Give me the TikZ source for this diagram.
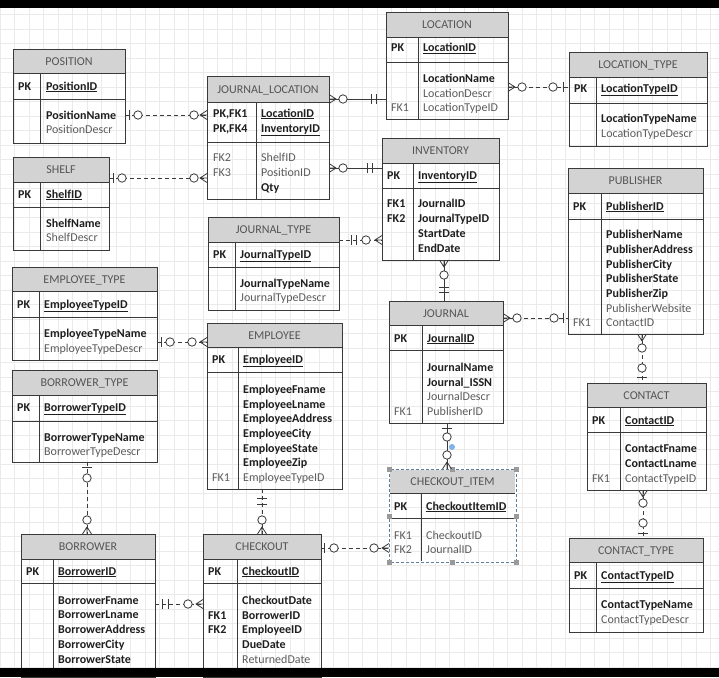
\documentclass[tikz,border=0pt]{standalone}
\usepackage{fontspec}
\setmainfont{Carlito}
\usetikzlibrary{calc}
\definecolor{hdr}{HTML}{D3D3D3}
\definecolor{bord}{HTML}{3A3A3A}
\definecolor{txtb}{HTML}{1E1E1E}
\definecolor{txtr}{HTML}{5C5C5C}
\definecolor{hdrtxt}{HTML}{555555}
\definecolor{gridc}{HTML}{EAEAEA}
\definecolor{selc}{HTML}{5E7E9E}
\definecolor{handc}{HTML}{9A9A9A}
\definecolor{glue}{HTML}{7FB2E5}
\newcounter{tn}
\tikzset{
  conn/.style={draw=bord, line width=0.8pt},
  dsh/.style={dash pattern=on 4pt off 3pt},
  tbox/.style={draw=bord, line width=0.8pt, inner sep=0pt, outer sep=0pt},
  htext/.style={font=\fontsize{12}{14}\selectfont, text=hdrtxt, anchor=base, yshift=-4pt, inner sep=0pt},
  kb/.style={font=\fontsize{12}{14}\selectfont\bfseries, text=txtb, anchor=base west, yshift=-4pt, inner sep=0pt},
  kr/.style={font=\fontsize{12}{14}\selectfont, text=txtr, anchor=base west, yshift=-4pt, inner sep=0pt},
}
% name, x1, y1, x2, y2, title, yheader, ypk, xdivider
\newcommand{\erTable}[9]{%
  \fill[hdr] (#2,#3) rectangle (#4,#7);
  \draw[conn] (#2,#7) -- (#4,#7) (#2,#8) -- (#4,#8) (#9,#7) -- (#9,#5);
  \node[tbox, anchor=north west, minimum width={(#4-#2)*1pt}, minimum height={(#5-#3)*1pt}] (#1) at (#2,#3) {};
  \node[htext] (#1-h) at ({(#2+#4)/2},{(#3+#7)/2}) {#6};
}
\newcommand{\txt}[4]{\stepcounter{tn}\node[#1] (t\arabic{tn}) at (#2,#3) {#4};}
\newcommand{\crowf}[2]{\begin{scope}[shift={#1},rotate=#2]\draw[conn] (0,-4.5)--(7,0)--(0,4.5) (0,0)--(7,0);\end{scope}}
\newcommand{\cbar}[3]{\begin{scope}[shift={#1},rotate=#2]\draw[conn] (#3,-5)--(#3,5);\end{scope}}
\newcommand{\ccir}[3]{\begin{scope}[shift={#1},rotate=#2]\draw[conn,fill=white] (#3,0) circle[radius=4.2pt];\end{scope}}
\begin{document}
\begin{tikzpicture}[x=1pt,y=-1pt]
\useasboundingbox (0,0) rectangle (719,677);
\fill[white] (0,0) rectangle (719,677);
\draw[gridc, line width=0.5pt, xstep=14.5pt, ystep=14.5pt] (0,0) grid (719,677);

% ---------- tables ----------
\erTable{position}{13}{49}{125}{143}{POSITION}{73}{99}{40}
\txt{kb}{18}{86}{PK}\txt{kb}{46}{86}{\underline{PositionID}}
\txt{kb}{46}{115}{PositionName}\txt{kr}{46}{129}{PositionDescr}

\erTable{shelf}{13}{157}{109}{250}{SHELF}{182}{207}{40}
\txt{kb}{18}{194}{PK}\txt{kb}{46}{194}{\underline{ShelfID}}
\txt{kb}{46}{223}{ShelfName}\txt{kr}{46}{237}{ShelfDescr}

\erTable{jl}{207}{76}{329}{199}{JOURNAL\_LOCATION}{102}{142}{256}
\txt{kb}{213}{113}{PK,FK1}\txt{kb}{261}{113}{\underline{LocationID}}
\txt{kb}{213}{128}{PK,FK4}\txt{kb}{261}{128}{\underline{InventoryID}}
\txt{kr}{213}{157}{FK2}\txt{kr}{261}{157}{ShelfID}
\txt{kr}{213}{172}{FK3}\txt{kr}{261}{172}{PositionID}
\txt{kb}{261}{187}{Qty}

\erTable{location}{386}{12}{508}{119}{LOCATION}{37}{62}{418}
\txt{kb}{391}{48}{PK}\txt{kb}{423}{48}{\underline{LocationID}}
\txt{kb}{423}{78}{LocationName}\txt{kr}{423}{93}{LocationDescr}
\txt{kr}{391}{107}{FK1}\txt{kr}{423}{107}{LocationTypeID}

\erTable{inventory}{382}{138}{499}{260}{INVENTORY}{163}{188}{413}
\txt{kb}{387}{175}{PK}\txt{kb}{418}{175}{\underline{InventoryID}}
\txt{kb}{387}{203}{FK1}\txt{kb}{418}{203}{JournalID}
\txt{kb}{387}{218}{FK2}\txt{kb}{418}{218}{JournalTypeID}
\txt{kb}{418}{233}{StartDate}\txt{kb}{418}{248}{EndDate}

\erTable{loctype}{569}{52}{707}{146}{LOCATION\_TYPE}{77}{103}{596}
\txt{kb}{574}{88}{PK}\txt{kb}{601}{88}{\underline{LocationTypeID}}
\txt{kb}{601}{118}{LocationTypeName}\txt{kr}{601}{133}{LocationTypeDescr}

\erTable{publisher}{568}{168}{703}{334}{PUBLISHER}{193}{219}{601}
\txt{kb}{573}{206}{PK}\txt{kb}{606}{206}{\underline{PublisherID}}
\txt{kb}{606}{234}{PublisherName}
\txt{kb}{606}{249}{PublisherAddress}
\txt{kb}{606}{264}{PublisherCity}
\txt{kb}{606}{278}{PublisherState}
\txt{kb}{606}{293}{PublisherZip}
\txt{kr}{606}{308}{PublisherWebsite}
\txt{kr}{573}{322}{FK1}\txt{kr}{606}{322}{ContactID}

\erTable{contact}{587}{383}{706}{490}{CONTACT}{407}{432}{620}
\txt{kb}{592}{420}{PK}\txt{kb}{625}{420}{\underline{ContactID}}
\txt{kb}{625}{448}{ContactFname}
\txt{kb}{625}{463}{ContactLname}
\txt{kr}{592}{478}{FK1}\txt{kr}{625}{478}{ContactTypeID}

\erTable{conttype}{569}{538}{703}{632}{CONTACT\_TYPE}{562}{588}{596}
\txt{kb}{574}{575}{PK}\txt{kb}{601}{575}{\underline{ContactTypeID}}
\txt{kb}{601}{604}{ContactTypeName}\txt{kr}{601}{619}{ContactTypeDescr}

\erTable{jtype}{208}{217}{339}{310}{JOURNAL\_TYPE}{242}{267}{235}
\txt{kb}{213}{254}{PK}\txt{kb}{240}{254}{\underline{JournalTypeID}}
\txt{kb}{240}{283}{JournalTypeName}\txt{kr}{240}{297}{JournalTypeDescr}

\erTable{employee}{207}{323}{342}{489}{EMPLOYEE}{347}{372}{238}
\txt{kb}{212}{359}{PK}\txt{kb}{243}{359}{\underline{EmployeeID}}
\txt{kb}{243}{389}{EmployeeFname}
\txt{kb}{243}{404}{EmployeeLname}
\txt{kb}{243}{418}{EmployeeAddress}
\txt{kb}{243}{433}{EmployeeCity}
\txt{kb}{243}{448}{EmployeeState}
\txt{kb}{243}{462}{EmployeeZip}
\txt{kr}{212}{477}{FK1}\txt{kr}{243}{477}{EmployeeTypeID}

\erTable{emptype}{12}{267}{157}{360}{EMPLOYEE\_TYPE}{291}{317}{39}
\txt{kb}{17}{304}{PK}\txt{kb}{44}{304}{\underline{EmployeeTypeID}}
\txt{kb}{44}{333}{EmployeeTypeName}\txt{kr}{44}{348}{EmployeeTypeDescr}

\erTable{bortype}{12}{370}{157}{462}{BORROWER\_TYPE}{395}{421}{39}
\txt{kb}{17}{407}{PK}\txt{kb}{44}{407}{\underline{BorrowerTypeID}}
\txt{kb}{44}{437}{BorrowerTypeName}\txt{kr}{44}{451}{BorrowerTypeDescr}

\erTable{borrower}{21}{534}{155}{677}{BORROWER}{559}{583}{53}
\txt{kb}{26}{571}{PK}\txt{kb}{58}{571}{\underline{BorrowerID}}
\txt{kb}{58}{600}{BorrowerFname}
\txt{kb}{58}{614}{BorrowerLname}
\txt{kb}{58}{629}{BorrowerAddress}
\txt{kb}{58}{644}{BorrowerCity}
\txt{kb}{58}{659}{BorrowerState}

\erTable{checkout}{203}{534}{321}{677}{CHECKOUT}{559}{583}{237}
\txt{kb}{208}{571}{PK}\txt{kb}{242}{571}{\underline{CheckoutID}}
\txt{kb}{242}{600}{CheckoutDate}
\txt{kb}{208}{615}{FK1}\txt{kb}{242}{615}{BorrowerID}
\txt{kb}{208}{629}{FK2}\txt{kb}{242}{629}{EmployeeID}
\txt{kb}{242}{644}{DueDate}
\txt{kr}{242}{659}{ReturnedDate}

\erTable{journal}{389}{301}{503}{423}{JOURNAL}{325}{350}{422}
\txt{kb}{394}{338}{PK}\txt{kb}{427}{338}{\underline{JournalID}}
\txt{kb}{427}{367}{JournalName}
\txt{kb}{427}{382}{Journal\_ISSN}
\txt{kr}{427}{396}{JournalDescr}
\txt{kr}{394}{411}{FK1}\txt{kr}{427}{411}{PublisherID}

\erTable{chkitem}{389}{469}{516}{562}{CHECKOUT\_ITEM}{493}{518}{421}
\txt{kb}{394}{506}{PK}\txt{kb}{426}{506}{\underline{CheckoutItemID}}
\txt{kr}{394}{535}{FK1}\txt{kr}{426}{535}{CheckoutID}
\txt{kr}{394}{549}{FK2}\txt{kr}{426}{549}{JournalID}
% selection frame
\draw[white, line width=1.2pt] (chkitem.north west) rectangle (chkitem.south east);
\draw[selc, line width=0.8pt, dash pattern=on 3pt off 2pt] (chkitem.north west) rectangle (chkitem.south east);
\foreach \hx/\hy in {389/469,452/469,516/469,389/516,516/516,389/562,452/562,516/562}
  \fill[handc] (\hx-2.5,\hy-2.5) rectangle (\hx+2.5,\hy+2.5);

% ---------- connectors ----------
% 1 POSITION - JOURNAL_LOCATION
\coordinate (a1) at (position.east |- 0,115); \coordinate (b1) at (jl.west |- 0,115);
\draw[conn,dsh] (a1) -- (b1);
\cbar{(a1)}{0}{4}\ccir{(a1)}{0}{13}\crowf{(b1)}{180}\ccir{(b1)}{180}{13}
% 2 SHELF - JOURNAL_LOCATION
\coordinate (a2) at (shelf.east |- 0,178); \coordinate (b2) at (jl.west |- 0,178);
\draw[conn,dsh] (a2) -- (b2);
\cbar{(a2)}{0}{4}\ccir{(a2)}{0}{13}\crowf{(b2)}{180}\ccir{(b2)}{180}{13}
% 3 JOURNAL_LOCATION - LOCATION
\coordinate (a3) at (jl.east |- 0,99); \coordinate (b3) at (location.west |- 0,99);
\draw[conn] (a3) -- (b3);
\crowf{(a3)}{0}\ccir{(a3)}{0}{14}\cbar{(b3)}{180}{10}\cbar{(b3)}{180}{15}
% 4 JOURNAL_LOCATION - INVENTORY
\coordinate (a4) at (jl.east |- 0,168); \coordinate (b4) at (inventory.west |- 0,168);
\draw[conn] (a4) -- (b4);
\crowf{(a4)}{0}\ccir{(a4)}{0}{14}\cbar{(b4)}{180}{10}\cbar{(b4)}{180}{15}
% 5 LOCATION - LOCATION_TYPE
\coordinate (a5) at (location.east |- 0,87); \coordinate (b5) at (loctype.west |- 0,87);
\draw[conn,dsh] (a5) -- (b5);
\crowf{(a5)}{0}\ccir{(a5)}{0}{14}\cbar{(b5)}{180}{6}\ccir{(b5)}{180}{16}
% 6 JOURNAL_TYPE - INVENTORY
\coordinate (a6) at (jtype.east |- 0,240); \coordinate (b6) at (inventory.west |- 0,240);
\draw[conn,dsh] (a6) -- (b6);
\cbar{(a6)}{0}{12}\cbar{(a6)}{0}{17}\crowf{(b6)}{180}\ccir{(b6)}{180}{16}
% 7 INVENTORY - JOURNAL
\coordinate (a7) at (inventory.south -| 444,0); \coordinate (b7) at (journal.north -| 444,0);
\draw[conn] (a7) -- (b7);
\crowf{(a7)}{-90}\ccir{(a7)}{-90}{15}\cbar{(b7)}{90}{9}\cbar{(b7)}{90}{14}
% 8 JOURNAL - PUBLISHER
\coordinate (a8) at (journal.east |- 0,318); \coordinate (b8) at (publisher.west |- 0,318);
\draw[conn,dsh] (a8) -- (b8);
\crowf{(a8)}{0}\ccir{(a8)}{0}{14}\cbar{(b8)}{180}{5}\ccir{(b8)}{180}{14}
% 9 PUBLISHER - CONTACT
\coordinate (a9) at (publisher.south -| 642,0); \coordinate (b9) at (contact.north -| 642,0);
\draw[conn,dsh] (a9) -- (b9);
\crowf{(a9)}{-90}\ccir{(a9)}{-90}{14}\cbar{(b9)}{90}{6}\ccir{(b9)}{90}{15}
% 10 CONTACT - CONTACT_TYPE
\coordinate (a10) at (contact.south -| 643,0); \coordinate (b10) at (conttype.north -| 643,0);
\draw[conn,dsh] (a10) -- (b10);
\crowf{(a10)}{-90}\ccir{(a10)}{-90}{13}\cbar{(b10)}{90}{5}\ccir{(b10)}{90}{15}
% 11 EMPLOYEE_TYPE - EMPLOYEE
\coordinate (a11) at (emptype.east |- 0,342); \coordinate (b11) at (employee.west |- 0,342);
\draw[conn,dsh] (a11) -- (b11);
\cbar{(a11)}{0}{4}\ccir{(a11)}{0}{13}\crowf{(b11)}{180}\ccir{(b11)}{180}{15}
% 12 BORROWER_TYPE - BORROWER
\coordinate (a12) at (bortype.south -| 87,0); \coordinate (b12) at (borrower.north -| 87,0);
\draw[conn,dsh] (a12) -- (b12);
\cbar{(a12)}{-90}{5}\ccir{(a12)}{-90}{16}\crowf{(b12)}{90}\ccir{(b12)}{90}{14}
% 13 BORROWER - CHECKOUT
\coordinate (a13) at (borrower.east |- 0,604); \coordinate (b13) at (checkout.west |- 0,604);
\draw[conn,dsh] (a13) -- (b13);
\cbar{(a13)}{0}{7}\cbar{(a13)}{0}{13}\crowf{(b13)}{180}\ccir{(b13)}{180}{15}
% 14 EMPLOYEE - CHECKOUT
\coordinate (a14) at (employee.south -| 262,0); \coordinate (b14) at (checkout.north -| 262,0);
\draw[conn,dsh] (a14) -- (b14);
\cbar{(a14)}{-90}{9}\cbar{(a14)}{-90}{15}\crowf{(b14)}{90}\ccir{(b14)}{90}{14}
% 15 CHECKOUT - CHECKOUT_ITEM
\coordinate (a15) at (checkout.east |- 0,548); \coordinate (b15) at (chkitem.west |- 0,548);
\draw[conn,dsh] (a15) -- (b15);
\cbar{(a15)}{0}{3}\ccir{(a15)}{0}{13}\crowf{(b15)}{180}\ccir{(b15)}{180}{15}
% 16 JOURNAL - CHECKOUT_ITEM
\coordinate (a16) at (journal.south -| 447,0); \coordinate (b16) at (chkitem.north -| 447,0);
\draw[conn] (a16) -- (b16);
\cbar{(a16)}{-90}{5}\ccir{(a16)}{-90}{14}\crowf{(b16)}{90}\ccir{(b16)}{90}{14}
\fill[glue] (452,447) circle[radius=3pt];

% screen bands
\fill[black] (0,0) rectangle (719,8);
\fill[black] (0,668) rectangle (719,677);
\end{tikzpicture}
\end{document}
